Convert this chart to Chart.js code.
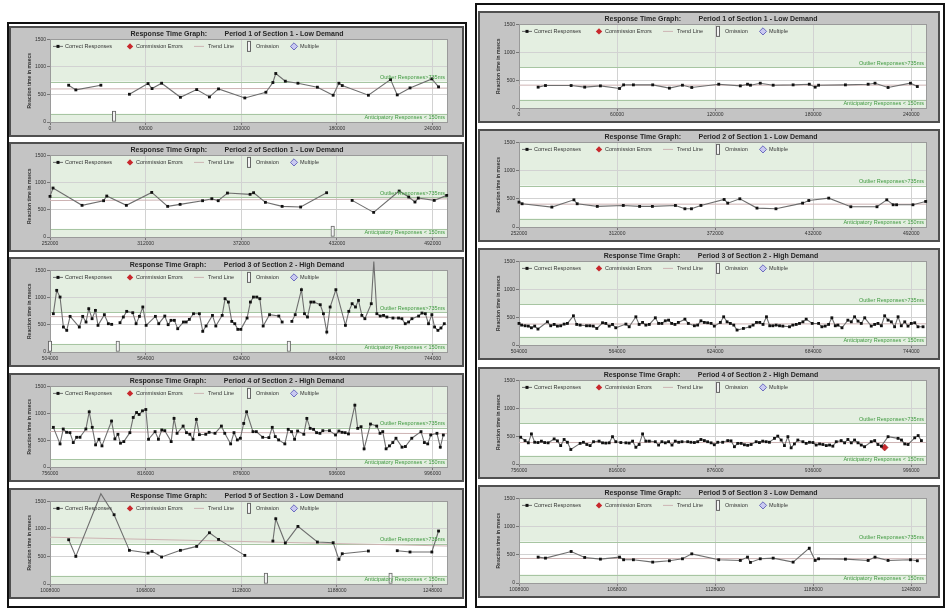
<!DOCTYPE html>
<html><head><meta charset="utf-8">
<script src="https://cdn.jsdelivr.net/npm/chart.js@4.4.1/dist/chart.umd.min.js"></script>
<style>
html,body{margin:0;padding:0;background:#fff;}
body{width:951px;height:615px;position:relative;overflow:hidden;font-family:"Liberation Sans",Arial,sans-serif;}
.frame{position:absolute;border:2px solid #111;box-sizing:border-box;}
.panel{position:absolute;box-sizing:border-box;border:2px solid #4f4f4f;background:#c4c4c4;}
.panel canvas{position:absolute;left:0;top:0;}
</style></head><body>
<div class="frame" style="left:7px;top:22px;width:460px;height:586px"></div>
<div class="frame" style="left:475px;top:3px;width:470px;height:605px"></div>
<script>
// ---------------- DATA ----------------
const periodStarts = [0, 252000, 504000, 756000, 1008000];
const periodSpan = 249000;
const periodTitles = [
  'Period 1 of Section 1 - Low Demand',
  'Period 2 of Section 1 - Low Demand',
  'Period 3 of Section 2 - High Demand',
  'Period 4 of Section 2 - High Demand',
  'Period 5 of Section 3 - Low Demand'
];
const titlePrefix = 'Response Time Graph:';
const xTicksP1 = [0, 60000, 120000, 180000, 240000];
const xTicksP2 = [252000, 312000, 372000, 432000, 492000];
const xTicksP3 = [504000, 564000, 624000, 684000, 744000];
const xTicksP4 = [756000, 816000, 876000, 936000, 996000];
const xTicksP5 = [1008000, 1068000, 1128000, 1188000, 1248000];
const yTicks = [0, 500, 1000, 1500];
const outlierMs = 735;
const anticipatoryMs = 150;
const omissionBarMs = 200;
const legendLabels = ['Correct Responses', 'Commission Errors', 'Trend Line', 'Omission', 'Multiple'];

// stimulus schedules (offset from period start, ms) for low-demand periods
const schedP1P5 = [11700, 16200, 31900, 40200, 49800, 61500, 64000, 70000, 81800, 92000, 100000, 105700, 122200, 135400, 139800, 141600, 147600, 155500, 167700, 177600, 181200, 183300, 199700, 213600, 217800, 225800, 239500, 243700];
const schedP2 = [0, 1900, 20100, 33600, 35600, 47900, 63800, 73800, 81600, 95700, 101500, 105500, 111300, 125500, 127700, 135100, 145600, 157200, 173500, 177300, 189500, 203000, 219000, 225000, 228900, 231000, 241000, 248800];

// left participant (null = omission)
const leftP1 = [668, 583, 668, null, 504, 698, 607, 704, 449, 589, 455, 601, 437, 540, 717, 881, 741, 704, 632, 486, 704, 662, 486, 771, 492, 619, 783, 638];
const leftP2 = [747, 900, 582, 667, 753, 582, 820, 563, 600, 667, 704, 667, 808, 784, 814, 637, 563, 551, 814, null, 673, 453, 845, 735, 643, 716, 673, 765];
const leftP5 = [804, 502, 1639, 1258, 611, 562, 593, 490, 611, 683, 931, 810, 520, null, 780, 1185, 744, 1046, 762, 750, 448, 550, 599, null, 605, 581, 581, 962];
const leftP3Times = [504000, 506100, 508200, 510300, 512400, 514500, 516600, 522400, 524500, 526600, 528300, 530400, 532500, 534100, 538100, 540600, 542700, 546500, 547900, 550000, 552100, 555900, 558000, 560100, 562200, 564300, 570100, 572200, 576000, 578100, 579900, 582000, 584100, 587700, 589400, 591400, 594000, 597700, 599800, 601900, 605900, 608000, 612000, 613800, 615900, 618000, 619900, 621800, 623700, 627600, 629700, 631600, 633700, 635600, 637700, 641700, 647500, 649600, 653800, 655700, 657800, 661700, 663600, 665500, 667600, 669500, 673500, 675500, 677600, 679700, 683300, 689300, 691400, 693500, 695600, 697500, 699600, 701500, 705500, 707100, 709000, 711100, 713200, 715300, 719100, 722600, 724700, 726800, 728900, 731000, 735200, 737300, 739400, 741400, 743500, 745200, 747300, 749200, 751300];
const leftP3 = [null, 704, 1133, 1010, 459, 398, 655, 459, 655, 551, 796, 612, 765, 490, 686, 520, 508, null, 539, 643, 747, 722, 520, 655, 827, 490, 655, 520, 661, 502, 582, 582, 428, 551, 551, 600, 704, 704, 380, 478, 673, 478, 673, 980, 918, 563, 520, 416, 416, 624, 918, 1010, 1010, 980, 478, 686, 661, 551, null, 563, 686, 1145, 704, 643, 918, 918, 869, 704, 367, 827, 1145, 490, 747, 888, 827, 949, 673, 612, 888, 1665, 704, 661, 673, 643, 624, 624, 612, 520, 551, 612, 661, 716, 704, 520, 686, 459, 398, 441, 520];
const leftP4Times = [758100, 762300, 764300, 766400, 768500, 770600, 772700, 774800, 778500, 780600, 782500, 784600, 786700, 788600, 794600, 796700, 798600, 800200, 802300, 806100, 808200, 810300, 811900, 814000, 816100, 817800, 821900, 824000, 826100, 828000, 832000, 833800, 835700, 839500, 841600, 843700, 845700, 847800, 849700, 853700, 855800, 859500, 863500, 865600, 869300, 871400, 873500, 875400, 877500, 879300, 883300, 885400, 889400, 893300, 895400, 897300, 899400, 903300, 905400, 907500, 909400, 911300, 915200, 917100, 919200, 921300, 923200, 925300, 927100, 931300, 935100, 937200, 939200, 941100, 943200, 947200, 949000, 951100, 953000, 957000, 960900, 963000, 964700, 966800, 968900, 971000, 973000, 976800, 978900, 982900, 988700, 990800, 992900, 994800, 998700, 1000800, 1002700];
const leftP4 = [738, 430, 707, 646, 639, 455, 553, 553, 707, 1027, 738, 412, 516, 393, 855, 523, 609, 443, 473, 639, 922, 1014, 978, 1045, 1070, 516, 658, 516, 689, 676, 473, 904, 627, 762, 639, 609, 516, 886, 602, 609, 646, 627, 762, 627, 430, 639, 504, 535, 811, 1027, 658, 658, 553, 547, 738, 566, 504, 430, 701, 658, 516, 670, 609, 904, 719, 701, 639, 627, 676, 676, 596, 670, 646, 639, 615, 1150, 719, 750, 338, 799, 762, 627, 658, 338, 393, 455, 535, 369, 381, 535, 658, 455, 430, 596, 627, 369, 596];

// right participant
const rightP1 = [374, 403, 403, 374, 397, 350, 415, 415, 415, 356, 409, 368, 427, 397, 427, 409, 445, 409, 415, 427, 374, 409, 415, 427, 445, 368, 445, 385];
const rightP2 = [441, 412, 353, 482, 412, 365, 382, 365, 365, 382, 323, 323, 382, 488, 423, 500, 335, 323, 423, 470, 512, 359, 359, 482, 394, 394, 394, 453];
const rightP5 = [459, 441, 559, 453, 423, 459, 412, 412, 370, 394, 429, 517, 412, 400, 459, 365, 429, 441, 370, 617, 400, 429, 423, 400, 459, 400, 412, 394];
const rightP3Times = [504000, 505600, 507700, 509700, 511600, 513600, 515600, 521400, 523400, 525500, 527500, 529500, 531600, 533600, 537300, 539300, 541400, 545300, 547300, 549400, 551600, 555100, 557100, 559200, 561200, 563200, 569400, 571400, 575500, 577500, 579600, 581600, 583700, 587400, 589400, 591400, 593500, 595500, 597400, 599400, 601500, 605500, 607600, 611300, 613300, 615300, 617400, 619400, 621500, 623500, 627200, 629200, 631300, 633300, 635400, 637400, 641300, 645200, 647200, 649300, 651300, 653300, 655400, 657400, 659300, 661300, 663400, 665400, 669500, 671500, 673600, 675600, 677700, 679700, 683400, 687300, 689300, 691300, 693400, 695400, 697500, 699100, 701600, 705200, 707300, 709300, 711400, 713400, 715500, 719500, 721600, 723600, 725700, 727700, 729800, 731800, 733800, 735900, 737900, 740000, 742000, 744000, 746100, 748100, 751200];
const rightP3 = [387, 357, 345, 339, 309, 339, 286, 416, 345, 369, 339, 345, 375, 387, 524, 369, 357, 345, 345, 339, 297, 399, 387, 339, 369, 309, 375, 327, 506, 369, 405, 357, 369, 488, 387, 387, 434, 446, 387, 369, 405, 464, 387, 345, 357, 434, 405, 399, 387, 339, 405, 506, 416, 387, 357, 268, 297, 327, 357, 405, 405, 369, 506, 345, 345, 357, 345, 339, 327, 357, 369, 387, 416, 464, 387, 387, 327, 339, 369, 488, 345, 357, 309, 446, 416, 506, 428, 387, 488, 339, 369, 387, 345, 524, 446, 416, 327, 506, 345, 416, 339, 387, 399, 327, 327];
const rightP4Times = [757000, 759700, 761700, 763600, 765600, 767600, 769700, 771700, 773800, 777500, 779500, 781500, 783600, 785600, 787700, 793400, 795400, 797500, 799500, 801600, 805000, 807100, 809100, 811200, 813200, 815200, 818300, 821400, 823400, 825500, 827500, 829500, 831600, 833600, 835700, 839400, 841400, 843400, 845500, 847500, 849600, 851600, 853700, 855700, 859200, 861200, 863300, 865300, 867300, 869400, 871400, 873500, 875500, 877600, 880600, 883700, 885700, 887800, 889800, 891900, 893900, 895900, 898000, 901100, 903100, 905100, 907200, 909200, 912300, 914300, 916400, 918400, 920500, 922500, 924500, 926600, 929700, 931700, 933700, 935800, 937800, 939900, 941900, 944000, 946000, 948000, 950100, 953100, 955200, 957200, 959300, 961300, 963400, 965400, 967400, 971500, 973600, 975600, 977700, 981800, 987900, 990000, 992000, 994000, 998100, 1000200, 1002200];
const rightP4 = [480, 420, 380, 540, 390, 385, 410, 385, 380, 450, 415, 330, 440, 390, 260, 370, 390, 350, 330, 400, 410, 380, 375, 380, 490, 400, 385, 380, 375, 410, 300, 350, 540, 410, 410, 400, 340, 400, 380, 400, 340, 410, 390, 400, 400, 390, 385, 400, 440, 420, 400, 380, 345, 390, 390, 420, 415, 310, 370, 370, 345, 335, 350, 400, 385, 410, 400, 390, 460, 500, 430, 330, 490, 290, 360, 430, 400, 370, 390, 385, 340, 360, 350, 330, 340, 320, 400, 420, 380, 440, 380, 430, 380, 340, 310, 400, 420, 350, 320, 490, 460, 430, 360, 350, 470, 510, 420];
const rightP4CommissionTimes = [979700];
const rightP4Commission = [296];

// trend lines [start value, end value]
const trendLeft = [[600, 615], [670, 700], [650, 640], [660, 620], [850, 690]];
const trendRight = [[410, 410], [405, 405], [375, 380], [385, 385], [435, 430]];

// ---------------- LAYOUT ----------------
const FONT = '"Liberation Sans", Arial, sans-serif';
Chart.defaults.font.family = FONT;
const C = {
  line: '#6e6e6e', dot: '#111', trend: '#cdb3b3', green: '#e4efe1', thr: '#a7c5a2',
  label: '#3f993f', text: '#333', red: '#c8282d', multiFill: '#c9c9f1', multiBorder: '#6d6dbf'
};
const xTickSets = [xTicksP1, xTicksP2, xTicksP3, xTicksP4, xTicksP5];
const leftBoxes = [[26,111],[142,110],[257,110],[373,109],[488,111]];
const rightBoxes = [[11,112],[129,113],[248,112],[367,112],[485,113]];

function drawLegendIcon(ctx, i, cx, cy) {
  ctx.save();
  if (i === 0) {
    ctx.strokeStyle = C.line; ctx.lineWidth = 1;
    ctx.beginPath(); ctx.moveTo(cx - 5, cy); ctx.lineTo(cx + 5, cy); ctx.stroke();
    ctx.fillStyle = C.dot; ctx.fillRect(cx - 1.5, cy - 1.5, 3, 3);
  } else if (i === 1) {
    ctx.fillStyle = C.red;
    ctx.beginPath(); ctx.moveTo(cx, cy - 3.2); ctx.lineTo(cx + 3.2, cy); ctx.lineTo(cx, cy + 3.2); ctx.lineTo(cx - 3.2, cy); ctx.closePath(); ctx.fill();
  } else if (i === 2) {
    ctx.strokeStyle = C.trend; ctx.lineWidth = 1;
    ctx.beginPath(); ctx.moveTo(cx - 5, cy); ctx.lineTo(cx + 5, cy); ctx.stroke();
  } else if (i === 3) {
    ctx.fillStyle = '#f3f3f3'; ctx.strokeStyle = '#666'; ctx.lineWidth = 1;
    ctx.fillRect(cx - 1.5, cy - 5, 3, 10); ctx.strokeRect(cx - 1.5, cy - 5, 3, 10);
  } else {
    ctx.fillStyle = C.multiFill; ctx.strokeStyle = C.multiBorder; ctx.lineWidth = 1;
    ctx.beginPath(); ctx.moveTo(cx, cy - 3.6); ctx.lineTo(cx + 3.6, cy); ctx.lineTo(cx, cy + 3.6); ctx.lineTo(cx - 3.6, cy); ctx.closePath(); ctx.fill(); ctx.stroke();
  }
  ctx.restore();
}
const legendIconX = [8, 80, 149, 199, 244];
const legendTextX = [15, 86, 158, 206, 250];

const rtPlugin = {
  id: 'rtDecor',
  beforeDraw(chart) {
    const {ctx, chartArea: ca, scales: {y}} = chart;
    ctx.save();
    ctx.fillStyle = C.green;
    ctx.fillRect(ca.left, ca.top, ca.width, ca.height);
    const yo = y.getPixelForValue(outlierMs), ya = y.getPixelForValue(anticipatoryMs);
    ctx.fillStyle = '#fff';
    ctx.fillRect(ca.left, yo, ca.width, ya - yo);
    ctx.restore();
  },
  beforeDatasetsDraw(chart) {
    const {ctx, chartArea: ca, scales: {y}} = chart;
    ctx.save();
    ctx.strokeStyle = C.thr; ctx.lineWidth = 1;
    [outlierMs, anticipatoryMs].forEach(v => {
      const py = Math.round(y.getPixelForValue(v)) + 0.5;
      ctx.beginPath(); ctx.moveTo(ca.left, py); ctx.lineTo(ca.right, py); ctx.stroke();
    });
    ctx.strokeStyle = '#9a9a9a';
    ctx.strokeRect(Math.round(ca.left) + 0.5, Math.round(ca.top) + 0.5, Math.round(ca.width), Math.round(ca.height));
    ctx.restore();
  },
  afterDraw(chart) {
    const {ctx, chartArea: ca, scales: {y}} = chart;
    ctx.save();
    ctx.font = '5.5px ' + FONT;
    ctx.textBaseline = 'middle';
    ctx.fillStyle = C.label; ctx.textAlign = 'right';
    ctx.fillText('Outlier Responses>' + outlierMs + 'ms', ca.right - 2, y.getPixelForValue(outlierMs) - 4);
    ctx.fillText('Anticipatory Responses < ' + anticipatoryMs + 'ms', ca.right - 2, (y.getPixelForValue(0) + y.getPixelForValue(anticipatoryMs)) / 2);
    ctx.textAlign = 'left';
    const ly = ca.top + 7;
    legendLabels.forEach((lab, i) => {
      drawLegendIcon(ctx, i, ca.left + legendIconX[i], ly);
      ctx.fillStyle = C.text;
      ctx.fillText(lab, ca.left + legendTextX[i], ly);
    });
    ctx.restore();
  }
};

function buildPanel(bx, by, bw, bh, padRight, p) {
  const div = document.createElement('div');
  div.className = 'panel';
  Object.assign(div.style, {left: bx + 'px', top: by + 'px', width: bw + 'px', height: bh + 'px'});
  const cv = document.createElement('canvas');
  cv.width = bw - 4; cv.height = bh - 4;
  cv.style.width = (bw - 4) + 'px'; cv.style.height = (bh - 4) + 'px';
  div.appendChild(cv);
  document.body.appendChild(div);

  const start = periodStarts[p.period];
  const pts = p.times.map((t, i) => ({x: t, y: p.values[i]}));
  const omis = p.times.filter((t, i) => p.values[i] === null).map(t => ({x: t, y: [0, omissionBarMs]}));
  const comm = (p.commTimes || []).map((t, i) => ({x: t, y: p.commValues[i]}));
  const trend = [{x: start, y: p.trend[0]}, {x: start + periodSpan, y: p.trend[1]}];
  const ticksX = xTickSets[p.period];

  new Chart(cv, {
    type: 'line',
    data: {
      datasets: [
        {label: legendLabels[0], data: pts, borderColor: C.line, borderWidth: 1.1, pointStyle: 'rect', pointRadius: 2,
         pointBackgroundColor: C.dot, pointBorderColor: C.dot, pointBorderWidth: 0, tension: 0, spanGaps: false, clip: false},
        {label: legendLabels[1], data: comm, showLine: false, pointStyle: 'rectRot', pointRadius: 3.5,
         pointBackgroundColor: C.red, pointBorderColor: '#8f1a1a', pointBorderWidth: 0.5, clip: false},
        {label: legendLabels[2], data: trend, borderColor: C.trend, borderWidth: 1, pointRadius: 0, tension: 0},
        {type: 'bar', label: legendLabels[3], data: omis, backgroundColor: '#f3f3f3', borderColor: '#666',
         borderWidth: 1, borderSkipped: false, barThickness: 3.5, grouped: false, clip: false}
      ]
    },
    options: {
      responsive: false, animation: false, devicePixelRatio: 1,
      events: [],
      layout: {padding: {left: 16, right: padRight, top: 0, bottom: 0}},
      plugins: {
        legend: {display: false}, tooltip: {enabled: false},
        title: {display: true, text: titlePrefix + '         ' + periodTitles[p.period], color: '#262626',
                font: {size: 7, weight: 'bold'}, padding: {top: 1.5, bottom: 1.5}}
      },
      scales: {
        x: {
          type: 'linear', min: start, max: start + periodSpan, offset: false,
          afterBuildTicks: s => { s.ticks = ticksX.map(v => ({value: v})); },
          afterFit: s => { s.height = 13; },
          ticks: {callback: v => String(v), font: {size: 5}, color: C.text, padding: 1, maxRotation: 0, autoSkip: false},
          grid: {offset: false, color: '#d2d2d2', tickLength: 3, tickColor: '#777'},
          border: {color: '#888'}
        },
        y: {
          min: 0, max: 1500, beginAtZero: true,
          afterBuildTicks: s => { s.ticks = yTicks.map(v => ({value: v})); },
          afterFit: s => { s.width = 23; },
          title: {display: true, text: 'Reaction time in msecs', font: {size: 5, weight: 'bold'}, color: C.text, padding: 0},
          ticks: {callback: v => String(v), font: {size: 5}, color: C.text, padding: 1},
          grid: {color: '#d2d2d2', tickLength: 3, tickColor: '#777'},
          border: {color: '#888'}
        }
      }
    },
    plugins: [rtPlugin]
  });
}

const lowTimes = (sched, period) => sched.map(o => periodStarts[period] + o);
const leftSpecs = [
  {period: 0, times: lowTimes(schedP1P5, 0), values: leftP1, trend: trendLeft[0]},
  {period: 1, times: lowTimes(schedP2, 1), values: leftP2, trend: trendLeft[1]},
  {period: 2, times: leftP3Times, values: leftP3, trend: trendLeft[2]},
  {period: 3, times: leftP4Times, values: leftP4, trend: trendLeft[3]},
  {period: 4, times: lowTimes(schedP1P5, 4), values: leftP5, trend: trendLeft[4]}
];
const rightSpecs = [
  {period: 0, times: lowTimes(schedP1P5, 0), values: rightP1, trend: trendRight[0]},
  {period: 1, times: lowTimes(schedP2, 1), values: rightP2, trend: trendRight[1]},
  {period: 2, times: rightP3Times, values: rightP3, trend: trendRight[2]},
  {period: 3, times: rightP4Times, values: rightP4, trend: trendRight[3], commTimes: rightP4CommissionTimes, commValues: rightP4Commission},
  {period: 4, times: lowTimes(schedP1P5, 4), values: rightP5, trend: trendRight[4]}
];
leftSpecs.forEach((s, i) => buildPanel(9, leftBoxes[i][0], 455, leftBoxes[i][1], 15, s));
rightSpecs.forEach((s, i) => buildPanel(478, rightBoxes[i][0], 462, rightBoxes[i][1], 12, s));
</script>
</body></html>
